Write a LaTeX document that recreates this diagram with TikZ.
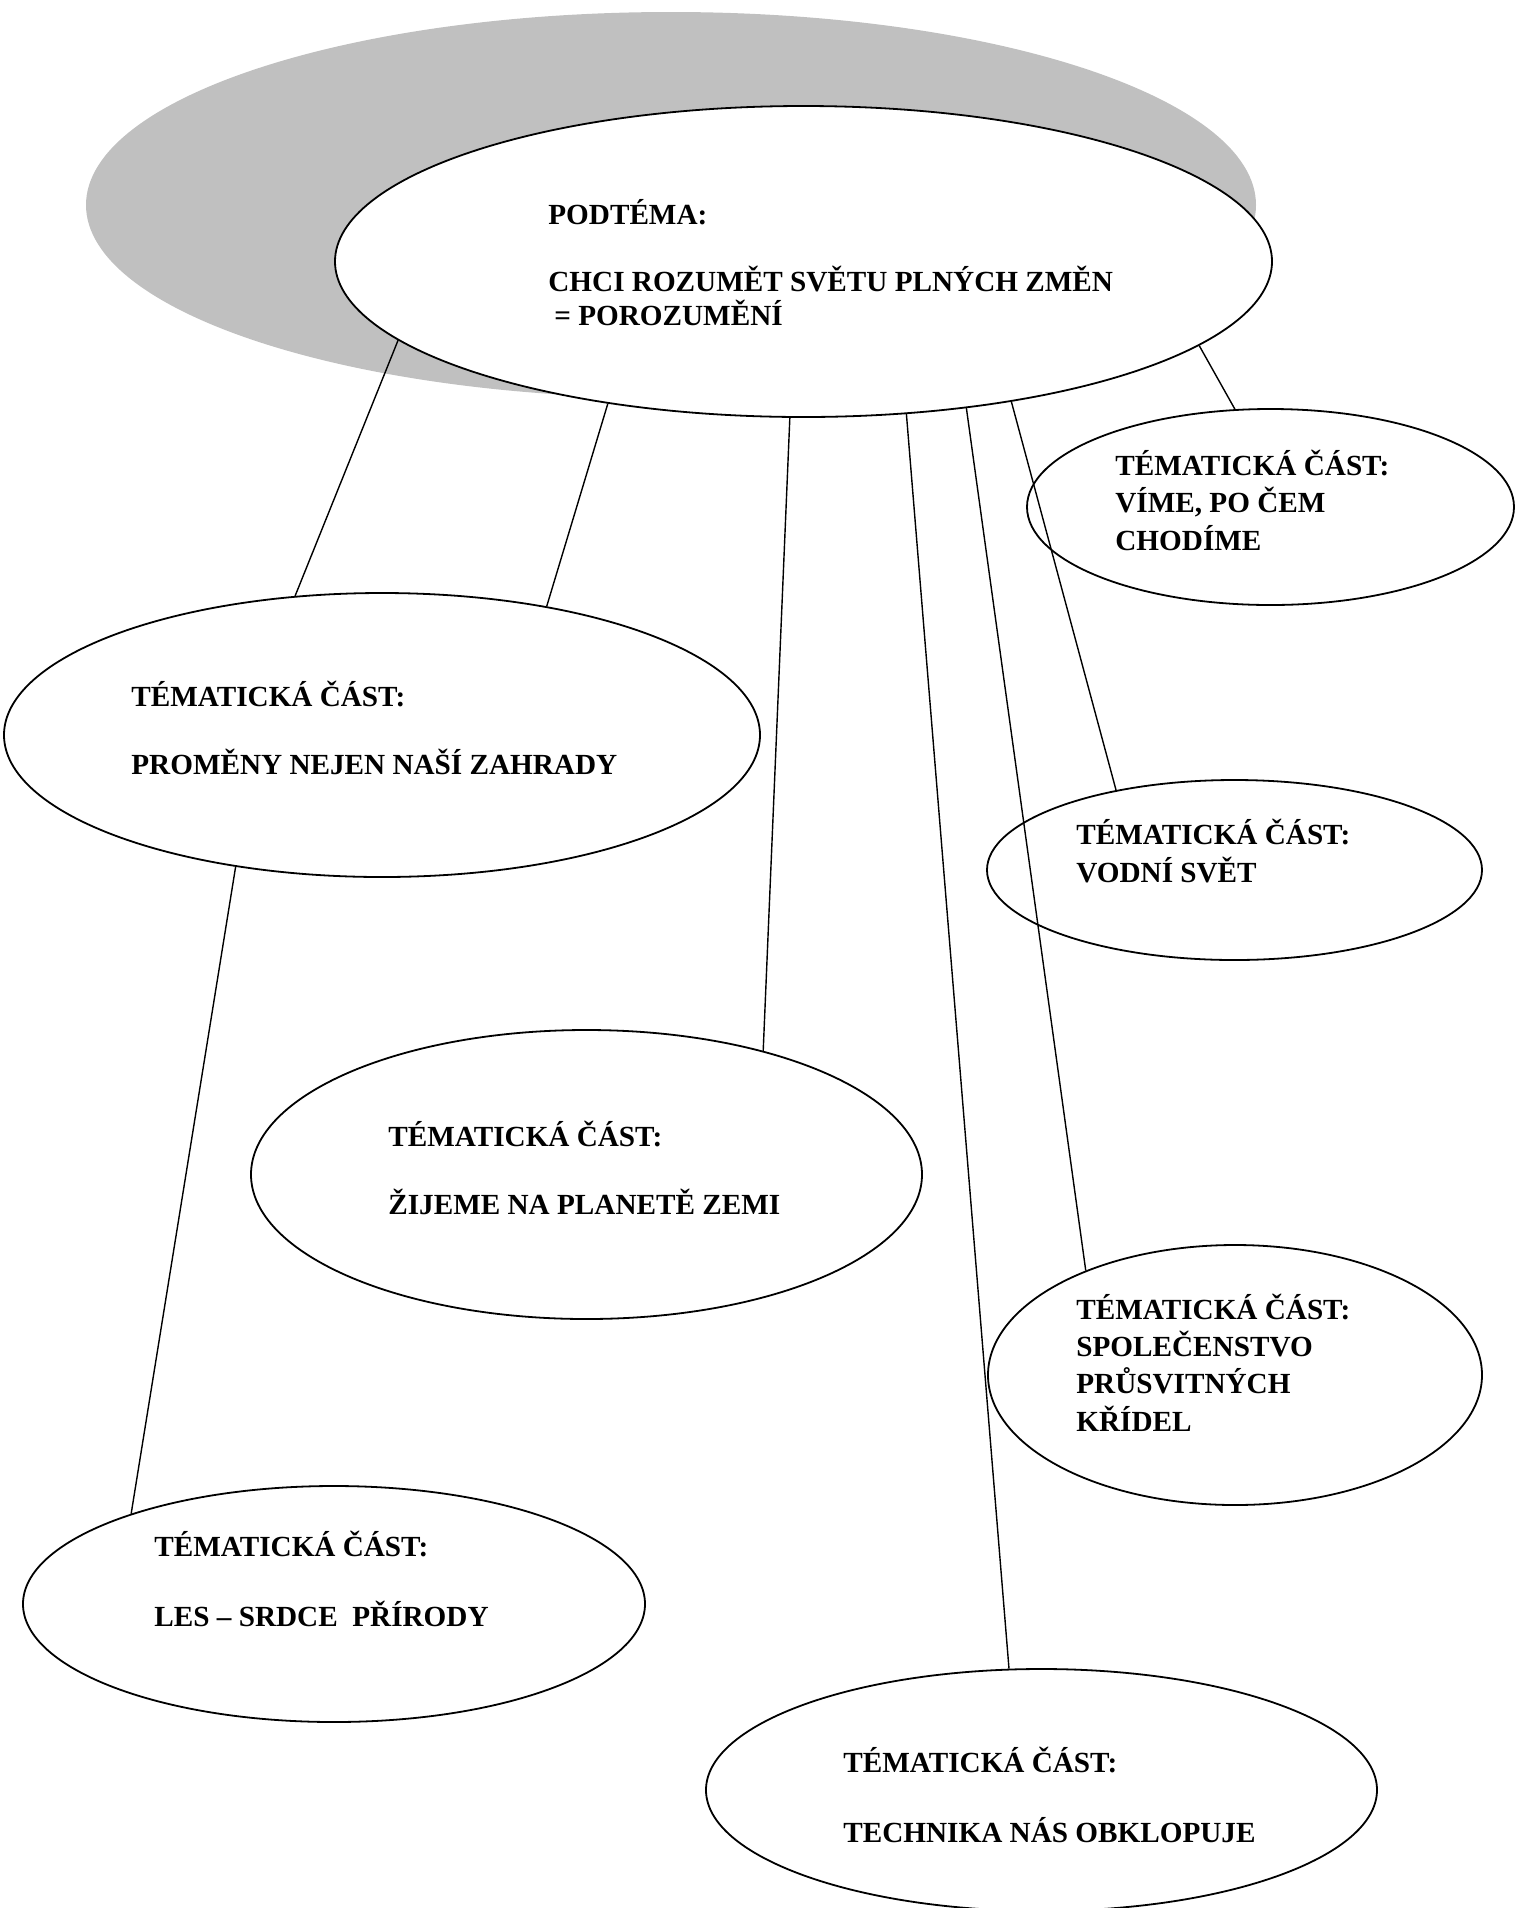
\documentclass[tikz,border=0pt]{standalone}
\usepackage{fontspec}
\setmainfont{Liberation Serif}
\usetikzlibrary{shapes.geometric}
\definecolor{shadowgray}{HTML}{C0C0C0}

\tikzset{
  part/.style={ellipse, draw, fill=white, line width=0.9pt, inner sep=0pt},
  parttext/.style={anchor=base west, align=left, inner sep=0pt,
    font=\fontsize{14.6}{#1}\selectfont\bfseries},
  parttext/.default=18.6pt,
  link/.style={line width=0.7pt}
}

\begin{document}
\begin{tikzpicture}[x=0.5pt, y=-0.5pt]
  \useasboundingbox (0,0) rectangle (1516,1908);
  % grey shadow and the sub-topic
  \node[ellipse, fill=shadowgray, minimum width=585pt, minimum height=193pt] (shadow) at (671,205) {};
  \node[part, minimum width=468.5pt, minimum height=155.5pt] (subtopic) at (803.5,261.5) {};
  \node[parttext=16.75pt] (subtopic-text) at (548,325)
    {PODTÉMA:\\[16.75pt]CHCI ROZUMĚT SVĚTU PLNÝCH ZMĚN\\\hspace*{3pt}= POROZUMĚNÍ};

  % thematic parts
  \node[part, minimum width=243.5pt, minimum height=98pt] (vime) at (1270.5,507) {};
  \node[parttext] (vime-text) at (1115,550) {TÉMATICKÁ ČÁST:\\VÍME, PO ČEM\\CHODÍME};

  \node[part, minimum width=378pt, minimum height=142pt] (garden) at (382,735) {};
  \node[parttext=17pt] (garden-text) at (131,774) {TÉMATICKÁ ČÁST:\\[17pt]PROMĚNY NEJEN NAŠÍ ZAHRADY};

  \node[part, minimum width=247.5pt, minimum height=90pt] (vodni) at (1234.5,870) {};
  \node[parttext] (vodni-text) at (1076,882) {TÉMATICKÁ ČÁST:\\VODNÍ SVĚT};

  \node[part, minimum width=335.5pt, minimum height=144.5pt] (zemi) at (586.5,1174.5) {};
  \node[parttext=17pt] (zemi-text) at (388,1214) {TÉMATICKÁ ČÁST:\\[17pt]ŽIJEME NA PLANETĚ ZEMI};

  \node[part, minimum width=247pt, minimum height=130pt] (kridla) at (1235,1375) {};
  \node[parttext] (kridla-text) at (1076,1431) {TÉMATICKÁ ČÁST:\\SPOLEČENSTVO\\PRŮSVITNÝCH\\KŘÍDEL};

  \node[part, minimum width=311pt, minimum height=118pt] (les) at (334,1604) {};
  \node[parttext=17.5pt] (les-text) at (154,1626) {TÉMATICKÁ ČÁST:\\[17.5pt]LES -- SRDCE\ \ PŘÍRODY};

  \node[part, minimum width=335.5pt, minimum height=121pt] (technika) at (1041.5,1790) {};
  \node[parttext=17.5pt] (technika-text) at (843,1842) {TÉMATICKÁ ČÁST:\\[17.5pt]TECHNIKA NÁS OBKLOPUJE};

  % connectors
  \draw[link] (subtopic.191) -- (garden.122);
  \draw[link] (subtopic.216) -- (garden.38);
  \draw[link] (subtopic.265) -- (zemi.35);
  \draw[link] (subtopic.304) -- (technika.105);
  \draw[link] (subtopic.318) -- (kridla.145);
  \draw[link] (subtopic.326) -- (vodni.146);
  \draw[link] (subtopic.348) -- (vime.110);
  \draw[link] (garden.222) -- (les.156);
\end{tikzpicture}
\end{document}
